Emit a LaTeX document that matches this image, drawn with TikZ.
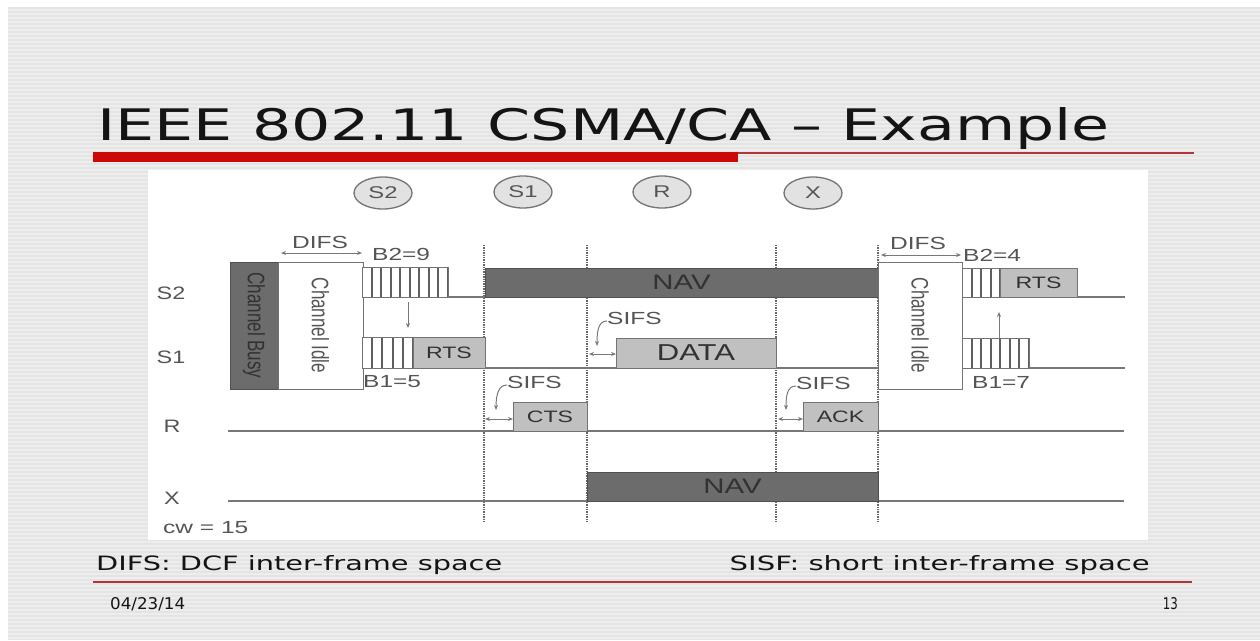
\documentclass[tikz,border=0pt]{standalone}
\usepackage{graphicx}
\usepackage{fontspec}
\setmainfont{DejaVu Sans}
\newfontfamily\slidefont{DejaVu Sans Condensed}
\newfontfamily\lsans{Liberation Sans}
\usetikzlibrary{arrows.meta,calc,shapes.geometric}
\definecolor{slidebg}{RGB}{228,228,228}
\definecolor{stripe}{RGB}{237,237,237}
\definecolor{lanegray}{RGB}{120,120,120}
\definecolor{slotgray}{RGB}{95,95,95}
\definecolor{txtgray}{RGB}{85,85,85}
\definecolor{darkfill}{RGB}{108,108,108}
\definecolor{darktxt}{RGB}{50,50,50}
\definecolor{lightfill}{RGB}{192,192,192}
\definecolor{boxedge}{RGB}{115,115,115}
\definecolor{circfill}{RGB}{226,226,226}
\definecolor{titlered}{RGB}{204,8,8}
\definecolor{linered}{RGB}{175,55,55}
\definecolor{titletxt}{RGB}{20,20,20}
\newcommand{\wide}[2][1.4]{\scalebox{#1}[1]{#2}}
\tikzset{
  lane/.style={draw=lanegray, line width=1.6pt},
  vdots/.style={draw=lanegray!85!black, line width=1.4pt, densely dotted},
  boxbase/.style={line width=1pt, inner sep=0pt, outer sep=0pt, anchor=north west},
  busybox/.style={boxbase, draw=boxedge!70!black, fill=darkfill},
  idlebox/.style={boxbase, draw=boxedge, fill=white},
  framebox/.style={boxbase, draw=boxedge, fill=lightfill, text=darktxt,
    font=\lsans\fontsize{16.5}{17}\selectfont},
  navbox/.style={boxbase, draw=boxedge!70!black, fill=darkfill, text=darktxt,
    font=\lsans\fontsize{21}{22}\selectfont},
  slotline/.style={draw=slotgray, line width=2pt},
  hatch/.style={boxbase, draw=boxedge, fill=white,
    path picture={\foreach \i in {0,...,#1}{\draw[slotline]
      ($(path picture bounding box.south west)!{\i/#1}!(path picture bounding box.south east)$) --
      ($(path picture bounding box.north west)!{\i/#1}!(path picture bounding box.north east)$);}}},
  station/.style={ellipse, draw=boxedge, line width=1.3pt, fill=circfill,
    minimum width=58pt, minimum height=32pt, inner sep=0pt, text=txtgray,
    font=\lsans\fontsize{17}{17}\selectfont},
  rowlbl/.style={inner sep=0pt, text=txtgray, font=\lsans\fontsize{18}{18}\selectfont},
  lbl/.style={inner sep=0pt, text=txtgray, font=\lsans\fontsize{17.5}{18}\selectfont},
  rotlbl/.style={inner sep=0pt, rotate=-90, font=\lsans\fontsize{17}{17}\selectfont},
  dim/.style={draw=lanegray, line width=1pt, {Stealth[length=5pt,width=4pt]}-{Stealth[length=5pt,width=4pt]}},
  ptr/.style={draw=lanegray, line width=1pt, -{Stealth[length=5pt,width=4pt]}},
  slidetxt/.style={inner sep=0pt, text=titletxt, font=\slidefont},
}
\begin{document}
\begin{tikzpicture}[x=1pt,y=-1pt]
\useasboundingbox (0,0) rectangle (1260,640);
\fill[white] (0,0) rectangle (1260,640);
\fill[slidebg] (8,7) rectangle (1260,640);
\foreach \y in {9,13,...,637} \fill[stripe] (8,\y) rectangle (1260,\y+1.5);

% title
\node[slidetxt, anchor=base west] (title) at (97,140)
  {\resizebox{1013pt}{33pt}{IEEE 802.11 CSMA/CA – Example}};
\fill[titlered] (93,152) rectangle (738,162);
\draw[linered, line width=1.2pt] (738,153) -- (1194,153);

% panel
\fill[white] (148,170) rectangle (1148,540);

% stations
\node[station] (cS2) at (383,193) {\wide{S2}};
\node[station] (cS1) at (523,192) {\wide{S1}};
\node[station] (cR)  at (662,192) {\wide{R}};
\node[station] (cX)  at (813,193) {\wide{X}};

% row labels
\node[rowlbl] (lS2) at (171,293) {\wide[1.3]{S2}};
\node[rowlbl] (lS1) at (171,357) {\wide[1.3]{S1}};
\node[rowlbl] (lR)  at (172,426) {\wide[1.3]{R}};
\node[rowlbl] (lX)  at (172,498) {\wide[1.3]{X}};
\node[lbl, anchor=west] (cw) at (163,528) {\wide{cw = 15}};

% dotted time marks
\foreach \n/\x in {a/484,b/587,c/776,d/878}{
  \coordinate (t\n) at (\x,245);
  \coordinate (b\n) at (\x,523);
  \draw[vdots] (t\n) -- (b\n);
}

% lanes R and X
\coordinate (rL) at (228,431); \coordinate (rR) at (1124,431);
\coordinate (xL) at (228,501); \coordinate (xR) at (1124,501);
\draw[lane] (rL) -- (rR);
\draw[lane] (xL) -- (xR);

% first contention
\node[busybox, minimum width=48pt, minimum height=127pt] (busy) at (230,262) {};
\node[rotlbl, text=darktxt] (busyT) at (busy.center) {\scalebox{1}[1.4]{Channel Busy}};
\node[idlebox, minimum width=85pt, minimum height=127pt] (idle1) at (278,262) {};
\node[rotlbl, text=txtgray] (idle1T) at (idle1.center) {\scalebox{1}[1.4]{Channel Idle}};
\coordinate (dA1) at (281,253); \coordinate (dA2) at (362,253);
\draw[dim] (dA1) -- (dA2);
\node[lbl] (difs1) at (320,242) {\wide{DIFS}};
\node[lbl, anchor=west] (b29) at (372,254) {\wide{B2=9}};

\node[hatch=9, minimum width=86pt, minimum height=30pt] (hS2a) at (362,267) {};
\node[hatch=5, minimum width=51pt, minimum height=31pt] (hS1a) at (362,337) {};
\node[framebox, minimum width=72pt, minimum height=31pt] (rts1) at (413,337) {\wide{RTS}};
\node[lbl, anchor=west] (b15) at (363,382) {\wide{B1=5}};
\coordinate (arrD1) at (408,302); \coordinate (arrD2) at (408,328);
\draw[ptr] (arrD1) -- (arrD2);

% NAV at S2
\node[navbox, minimum width=393pt, minimum height=29pt] (nav1) at (485,268) {\wide{NAV}};
\draw[lane] (hS2a.south east) -- (nav1.south west);

% CTS
\node[framebox, minimum width=74pt, minimum height=29pt] (cts) at (513,402) {\wide{CTS}};
\node[lbl, anchor=west] (sifsC) at (507,382) {\wide{SIFS}};
\coordinate (sCtip) at (496,410);
\draw[ptr] ([yshift=-3pt]sifsC.west) .. controls +(-9,0) and +(0,-14) .. (sCtip);
\coordinate (sC1) at (485,419);
\draw[dim] (sC1) -- (sC1 -| cts.west);

% DATA
\node[framebox, minimum width=160pt, minimum height=30pt,
  font=\lsans\fontsize{23}{24}\selectfont] (data) at (616,338) {\wide[1.35]{DATA}};
\node[lbl, anchor=west] (sifsD) at (607,318) {\wide{SIFS}};
\coordinate (sDtip) at (597,346);
\draw[ptr] ([yshift=-3pt]sifsD.west) .. controls +(-9,0) and +(0,-14) .. (sDtip);
\coordinate (sD1) at (589,354);
\draw[dim] (sD1) -- (sD1 -| data.west);
\draw[lane] (rts1.south east) -- (data.south west);

% ACK
\node[framebox, minimum width=75pt, minimum height=29pt] (ack) at (803,402) {\wide{ACK}};
\node[lbl, anchor=west] (sifsA) at (796,383) {\wide{SIFS}};
\coordinate (sAtip) at (786,410);
\draw[ptr] ([yshift=-3pt]sifsA.west) .. controls +(-9,0) and +(0,-14) .. (sAtip);
\coordinate (sA1) at (778,419);
\draw[dim] (sA1) -- (sA1 -| ack.west);

% NAV at X
\node[navbox, minimum width=291pt, minimum height=29pt] (nav2) at (587,472) {\wide{NAV}};

% second contention
\node[idlebox, minimum width=84pt, minimum height=127pt] (idle2) at (878,262) {};
\node[rotlbl, text=txtgray] (idle2T) at (idle2.center) {\scalebox{1}[1.4]{Channel Idle}};
\draw[lane] (data.south east) -- (data.south east -| idle2.west);
\coordinate (dB1) at (881,255); \coordinate (dB2) at (961,255);
\draw[dim] (dB1) -- (dB2);
\node[lbl] (difs2) at (918,243) {\wide{DIFS}};
\node[lbl, anchor=west] (b24) at (963,255) {\wide{B2=4}};

\node[hatch=4, minimum width=38pt, minimum height=29pt] (hS2b) at (962,268) {};
\node[framebox, minimum width=77pt, minimum height=29pt] (rts2) at (1000,268) {\wide{RTS}};
\coordinate (s2R) at (1125,297);
\draw[lane] (rts2.south east) -- (s2R);
\node[hatch=7, minimum width=67pt, minimum height=30pt] (hS1b) at (962,338) {};
\coordinate (s1R) at (1125,368);
\draw[lane] (hS1b.south east) -- (s1R);
\node[lbl, anchor=west] (b17) at (972,382) {\wide{B1=7}};
\coordinate (arrU1) at (999,338); \coordinate (arrU2) at (999,312);
\draw[ptr] (arrU1) -- (arrU2);

% footer
\node[slidetxt, anchor=base west] (noteL) at (96,570)
  {\resizebox{406pt}{15pt}{DIFS: DCF inter-frame space}};
\node[slidetxt, anchor=base east] (noteR) at (1150,570)
  {\resizebox{420pt}{15pt}{SISF: short inter-frame space}};
\draw[linered, line width=1.2pt] (93,582) -- (1192,582);
\node[slidetxt, anchor=base west] (date) at (110,609)
  {\resizebox{75pt}{12pt}{04/23/14}};
\node[slidetxt, anchor=base east] (page) at (1178,609)
  {\resizebox{15pt}{12pt}{13}};
\end{tikzpicture}
\end{document}
